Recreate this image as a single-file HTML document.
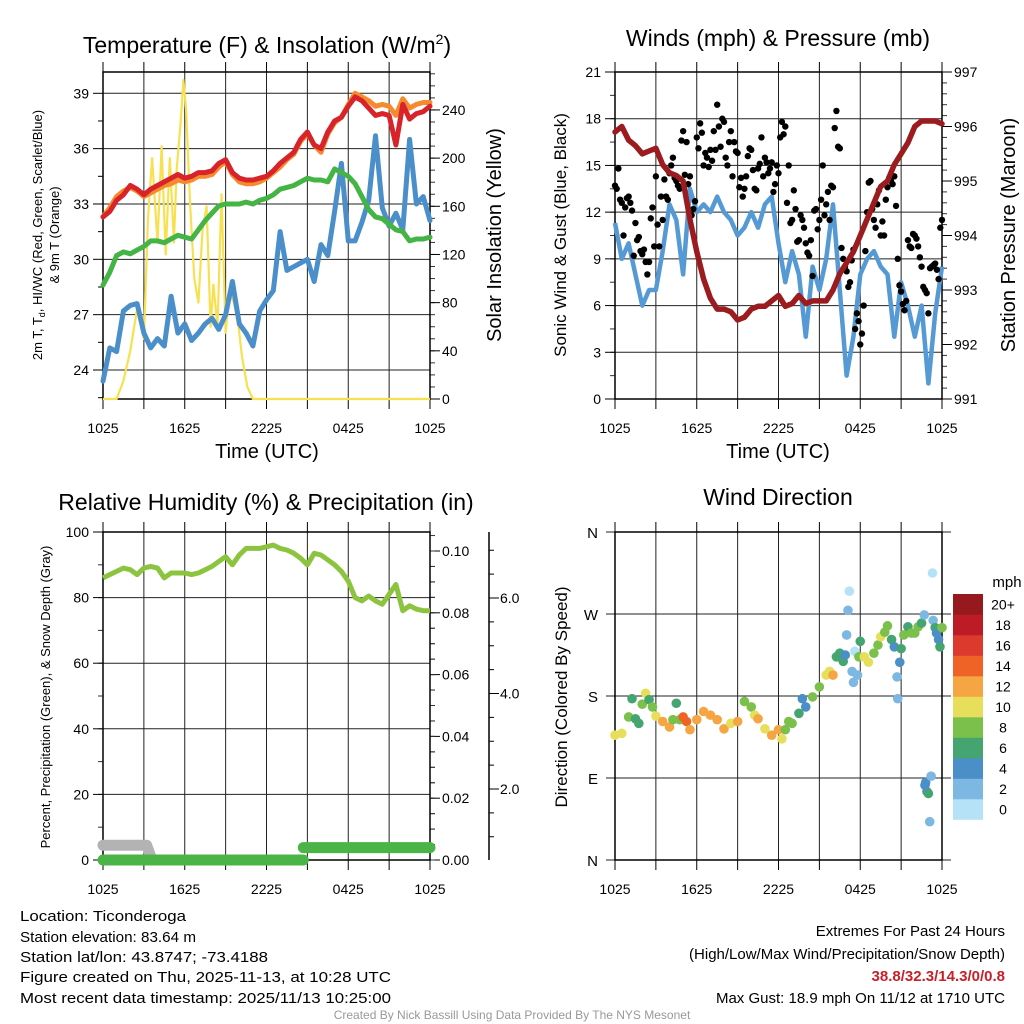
<!DOCTYPE html>
<html><head><meta charset="utf-8"><style>
html,body{margin:0;padding:0;background:#fff}
svg{display:block;font-family:"Liberation Sans",sans-serif}
</style></head><body>
<svg id="fig" width="1024" height="1024" viewBox="0 0 1024 1024" xmlns="http://www.w3.org/2000/svg">
<rect x="0" y="0" width="1024" height="1024" fill="#fff"/>
<g id="layer"></g>
<text x="267" y="53" font-size="23" text-anchor="middle">Temperature (F) &amp; Insolation (W/m<tspan font-size="14" dy="-9">2</tspan><tspan dy="9">)</tspan></text>
<text x="778" y="46" font-size="23" text-anchor="middle">Winds (mph) &amp; Pressure (mb)</text>
<text x="266" y="510" font-size="23" text-anchor="middle">Relative Humidity (%) &amp; Precipitation (in)</text>
<text x="778" y="505" font-size="23" text-anchor="middle">Wind Direction</text>
<text x="267" y="458" font-size="20" text-anchor="middle">Time (UTC)</text>
<text x="778" y="458" font-size="20" text-anchor="middle">Time (UTC)</text>
<text transform="translate(42,235) rotate(-90)" font-size="13" text-anchor="middle">2m T, T<tspan font-size="9" dy="3">d</tspan><tspan dy="-3">, HI/WC (Red, Green, Scarlet/Blue)</tspan></text>
<text transform="translate(59,235) rotate(-90)" font-size="13" text-anchor="middle">&amp; 9m T (Orange)</text>
<text transform="translate(501,235) rotate(-90)" font-size="20" text-anchor="middle">Solar Insolation (Yellow)</text>
<text transform="translate(566,235) rotate(-90)" font-size="17" text-anchor="middle">Sonic Wind &amp; Gust (Blue, Black)</text>
<text transform="translate(1015,235) rotate(-90)" font-size="20" text-anchor="middle">Station Pressure (Maroon)</text>
<text transform="translate(50,697) rotate(-90)" font-size="13" text-anchor="middle">Percent, Precipitation (Green), &amp; Snow Depth (Gray)</text>
<text transform="translate(567,697) rotate(-90)" font-size="17" text-anchor="middle">Direction (Colored By Speed)</text>
<text x="1007" y="587" font-size="15" text-anchor="middle">mph</text>
<g font-size="15">
<text x="20" y="921" textLength="166" lengthAdjust="spacingAndGlyphs">Location: Ticonderoga</text>
<text x="20" y="942" textLength="176" lengthAdjust="spacingAndGlyphs">Station elevation: 83.64 m</text>
<text x="20" y="962" textLength="248" lengthAdjust="spacingAndGlyphs">Station lat/lon: 43.8747; -73.4188</text>
<text x="20" y="982" textLength="371" lengthAdjust="spacingAndGlyphs">Figure created on Thu, 2025-11-13, at 10:28 UTC</text>
<text x="20" y="1003" textLength="371" lengthAdjust="spacingAndGlyphs">Most recent data timestamp: 2025/11/13 10:25:00</text>
</g>
<g font-size="15" text-anchor="end">
<text x="1005" y="936">Extremes For Past 24 Hours</text>
<text x="1005" y="959">(High/Low/Max Wind/Precipitation/Snow Depth)</text>
<text x="1005" y="981" fill="#c8202a" font-weight="bold">38.8/32.3/14.3/0/0.8</text>
<text x="1005" y="1003">Max Gust: 18.9 mph On 11/12 at 1710 UTC</text>
</g>
<text x="512" y="1019" font-size="12" fill="#999" text-anchor="middle">Created By Nick Bassill Using Data Provided By The NYS Mesonet</text>
</svg>
<script>
const hours = [0,0.5,1,1.5,2,2.5,3,3.5,4,4.5,5,5.5,6,6.5,7,7.5,8,8.5,9,9.5,10,10.5,11,11.5,12,12.5,13,13.5,14,14.5,15,15.5,16,16.5,17,17.5,18,18.5,19,19.5,20,20.5,21,21.5,22,22.5,23,23.5,24];
const timeTickLabels = ["1025","1625","2225","0425","1025"];
const tempRed = [32.3,32.6,33.2,33.5,34.0,33.8,33.5,33.8,34.0,34.2,34.4,34.6,34.4,34.5,34.7,34.7,34.8,35.2,35.4,34.7,34.4,34.3,34.3,34.4,34.5,34.8,35.2,35.5,35.8,36.5,36.9,36.2,36.0,36.9,37.5,37.7,38.3,38.8,38.6,38.2,37.8,37.9,37.8,36.2,38.4,37.6,37.9,38.0,38.3];
const temp9m = [32.3,32.8,33.4,33.7,33.9,33.7,33.4,33.6,33.8,34.0,34.1,34.3,34.2,34.3,34.5,34.5,34.6,35.0,35.3,34.6,34.2,34.1,34.1,34.2,34.4,34.7,35.0,35.4,35.7,36.4,36.8,36.2,35.8,36.8,37.4,37.7,38.4,39.0,38.8,38.6,38.3,38.4,38.3,37.8,38.7,38.2,38.4,38.5,38.5];
const dewpoint = [28.6,29.3,30.2,30.4,30.3,30.5,30.7,31.0,31.0,30.9,31.1,31.3,31.2,31.1,31.6,32.1,32.5,32.9,33.0,33.0,33.0,33.1,33.0,33.2,33.3,33.5,33.8,33.9,34.0,34.2,34.4,34.3,34.3,34.2,34.9,34.7,34.5,34.1,33.4,32.7,32.3,32.2,31.9,31.6,31.5,31.0,31.1,31.1,31.2];
const windChill = [23.4,25.2,25.0,27.2,27.5,27.6,26.0,25.2,25.7,25.3,28.0,26.0,26.5,25.6,26.0,26.5,26.8,26.2,27.0,28.8,26.5,26.0,25.3,27.2,27.8,28.3,31.5,29.4,29.6,29.8,30.0,28.8,30.8,30.2,32.6,35.2,31.0,31.0,32.0,33.2,36.7,32.8,31.8,32.5,31.6,36.5,33.0,33.4,32.1];
const solarHours = [0,1,1.5,2,2.5,3,3.3,3.6,4,4.3,4.6,4.9,5.2,5.4,5.7,5.9,6.1,6.4,6.7,7,7.3,7.6,7.9,8.1,8.4,8.7,9,9.3,9.6,9.9,10.2,10.6,11,24];
const solar = [0,0,15,40,75,50,150,200,130,210,120,200,130,190,230,265,240,160,100,80,140,160,60,95,60,170,55,90,80,65,35,10,0,0];
const windSpeed = [11.3,9,10,8,6,7,7,9.5,12.5,11.5,8,13.5,12,12.5,12,13,12,11.5,10.5,11,12,11,12.5,13,10,7.5,9.5,8,4,8.5,7,9,12.5,7,1.5,4,8,9,9.5,8.5,8,4,7.5,6,4,6,1,5.5,8.5];
const gustHours = [0,0.25,0.5,0.75,1,1.25,1.5,1.75,2,2.25,2.5,2.75,3,3.25,3.5,3.75,4,4.25,4.5,4.75,5,5.25,5.5,5.75,6,6.25,6.5,6.75,7,7.25,7.5,7.75,8,8.25,8.5,8.75,9,9.25,9.5,9.75,10,10.25,10.5,10.75,11,11.25,11.5,11.75,12,12.25,12.5,12.75,13,13.25,13.5,13.75,14,14.25,14.5,14.75,15,15.25,15.5,15.75,16,16.25,16.5,16.75,17,17.25,17.5,17.75,18,18.25,18.5,18.75,19,19.25,19.5,19.75,20,20.25,20.5,20.75,21,21.25,21.5,21.75,22,22.25,22.5,22.75,23,23.25,23.5,23.75,24];
const gusts = [13.7,14.8,12.6,12.3,13,12.1,11.3,10.4,9.3,8.8,8.8,12.3,14.3,9.8,11.5,13,14.5,15.5,14,13.5,17.2,16.5,14.3,12.2,16.8,17.7,15,15.5,16,17.2,18.9,16.2,17.8,15,17.2,16.5,15.8,14.2,13.5,15.6,16,13.5,14.8,16.8,15.5,14.5,15.2,13.8,14.5,17.8,17.5,15,11.5,12.2,10.2,11.5,10,9.2,7.9,12.2,11.5,15,12.5,11.5,13.6,18.5,16.1,9,8.2,7.5,9.6,5.5,3.5,6,12,14,11.5,12.5,10.5,10.5,13.6,14,14.3,9,6.9,5.7,10.2,9.7,10.5,9.8,8.5,7,5.5,8.5,8.7,7.7,11.5];
const gustHours2 = [0.125,0.375,0.625,0.875,1.125,1.375,1.625,1.875,2.125,2.375,2.625,2.875,3.125,3.375,3.625,3.875,4.125,4.375,4.625,4.875,5.125,5.375,5.625,5.875,6.125,6.375,6.625,6.875,7.125,7.375,7.625,7.875,8.125,8.375,8.625,8.875,9.125,9.375,9.625,9.875,10.125,10.375,10.625,10.875,11.125,11.375,11.625,11.875,12.125,12.375,12.625,12.875,13.125,13.375,13.625,13.875,14.125,14.375,14.625,14.875,15.125,15.375,15.625,15.875,16.125,16.375,16.625,16.875,17.125,17.375,17.625,17.875,18.125,18.375,18.625,18.875,19.125,19.375,19.625,19.875,20.125,20.375,20.625,20.875,21.125,21.375,21.625,21.875,22.125,22.375,22.625,22.875,23.125,23.375,23.625,23.875];
const gusts2 = [13.5,12.8,10.5,12.9,12.6,9.2,10.2,9.5,9.6,8.0,11.6,9.8,11.2,13.0,14.1,12.8,15.0,14.2,13.7,16.6,14.4,13.8,11.8,12.7,16.1,17.1,15.8,14.9,15.3,16.0,17.5,18.0,15.5,16.5,14.3,15.9,13.6,13.0,14.3,16.1,14.7,13.4,15.1,14.3,15.2,14.8,13.3,15.0,16.8,17.0,12.6,11.3,13.4,10.1,11.8,11.0,9.4,10.2,12.1,10.9,12.8,11.8,13.3,13.7,17.4,16.2,9.7,8.5,7.2,8.9,4.5,5.0,4.2,9.5,13.9,12.2,11.0,13.4,11.4,12.8,14.2,13.8,12.4,7.3,6.1,6.3,9.8,10.6,10.3,9.1,7.2,6.8,8.4,8.6,8.3,11.0];
const pressure = [995.9,996.0,995.75,995.65,995.5,995.55,995.6,995.3,995.15,995.1,995.0,994.3,993.7,993.2,992.85,992.65,992.65,992.6,992.45,992.5,992.65,992.7,992.7,992.8,992.9,992.7,992.75,992.9,992.75,992.8,992.8,992.8,993.0,993.3,993.5,993.7,994.0,994.3,994.6,994.9,995.0,995.3,995.5,995.7,996.0,996.1,996.1,996.1,996.05];
const humidity = [86,87,88,89,88.5,87,89,89.5,89,86,87.5,87.5,87.5,87,87.5,88.5,89.5,91,92.5,90,93,95,95,95,95.5,96,95,94.5,93.5,92,90,93.5,93,91.5,90,88,85,80,79,80.5,79,78,81,84,76,77.5,76.5,76,76];
const precipHours = [0,14.7,14.7,24];
const precip = [0,0,0.004,0.004];
const snowHours = [0,3.2,3.6];
const snowDepth = [4.5,4.5,0];
const dirHours = [0,0.5,1,1.25,1.5,1.75,2,2.25,2.5,2.75,3,3.5,4,4.25,4.5,4.75,5,5.25,5.5,6,6.5,7,7.5,8,8.5,9,9.5,10,10.25,10.5,11,11.5,12,12.25,12.5,12.75,13,13.5,13.75,14,14.5,15,15.5,15.75,16,16.25,16.5,16.75,16.9,17,17.1,17.2,17.4,17.5,17.6,17.8,17.9,18,18.3,18.6,19,19.3,19.5,19.8,20,20.3,20.5,20.7,20.75,20.9,21,21.2,21.5,21.75,22,22.25,22.5,22.7,22.75,22.8,22.9,23,23.1,23.2,23.3,23.35,23.5,23.6,23.75,23.85,24];
const dirDegrees = [137,139,157,177,155,150,171,183,176,168,158,152,146,154,172,154,157,152,143,154,163,159,154,144,150,152,174,168,159,155,144,137,143,133,143,152,150,161,177,168,179,190,203,207,203,223,227,218,225,247,274,295,207,195,229,203,223,240,223,217,227,236,245,250,257,242,234,201,177,217,232,247,256,249,249,256,260,269,82,85,75,73,42,92,315,263,255,249,242,234,255];
const dirSpeed = [10,10,8,6,6,6,8,10,6,8,10,12,12,8,6,8,14,14,12,12,12,12,12,12,10,12,8,8,10,12,10,12,12,10,8,8,8,6,4,4,8,8,10,10,12,6,6,6,4,2,2,0,2,2,0,2,8,6,10,10,8,8,10,8,8,6,4,2,2,4,6,8,6,8,8,8,6,2,4,4,4,6,2,2,0,2,6,4,4,6,8];
const speedColors = ["#b5e2f6","#7db8e3","#4a8fc7","#45a570","#7bc04b","#e7df5b","#f5a541","#ef6327","#dc3a2c","#bd1c27","#961a1d"];
const speedLabels = ["0","2","4","6","8","10","12","14","16","18","20+"];

const NS = "http://www.w3.org/2000/svg";
const layer = document.getElementById('layer');
function mk(tag, attrs, name, parent) {
  const el = document.createElementNS(NS, tag);
  for (const k in attrs) el.setAttribute(k, attrs[k]);
  
  
  (parent || layer).appendChild(el);
  return el;
}
function ln(x1,y1,x2,y2,name,st,w){ return mk('line',{x1,y1,x2,y2,stroke:st||'#000','stroke-width':w||1},name); }
function tx(x,y,s,name,anchor,size){ const t=mk('text',{x,y,'font-size':size||14,'text-anchor':anchor||'middle'},name); t.textContent=s; return t; }
function scale(d0,d1,r0,r1){ return v => r0 + (v-d0)/(d1-d0)*(r1-r0); }
function path(xs,ys,fx,fy){ return xs.map((t,i)=>(i?'L':'M')+fx(t).toFixed(1)+','+fy(ys[i]).toFixed(1)).join(''); }

function timeAxis(P, name){
  const xs = scale(0,24,P.x0,P.x1);
  for (let h=0; h<=24; h+=3){
    const x = xs(h);
    ln(x,P.y0,x,P.y1,name+'-vgrid','#222',1);
    ln(x,P.y0-10,x,P.y0,name+'-top-tick','#000',1);
    ln(x,P.y1,x,P.y1+10,name+'-bottom-tick','#000',1);
  }
  timeTickLabels.forEach((s,i)=>tx(xs(i*6),P.y1+34,s,name+'-x-tick-label'));
  return xs;
}
function yAxis(P, d0, d1, major, minor, side, fmt, name, grid, offset){
  const ys = scale(d0,d1,P.y1,P.y0);
  const ax = side==='left' ? P.x0 - (offset||0) : P.x1 + (offset||0);
  const dir = side==='left' ? -1 : 1;
  for (let v=d0; v<=d1+1e-9; v+=minor){
    const y=ys(v); if (y<P.y0-0.5||y>P.y1+0.5) continue;
    ln(ax,y,ax+dir*5,y,name+'-minor-tick','#333',1);
  }
  for (let v=Math.ceil(d0/major-1e-9)*major; v<=d1+1e-9; v+=major){
    const y=ys(v); if (y<P.y0-0.5||y>P.y1+0.5) continue;
    if (grid) ln(P.x0,y,P.x1,y,name+'-hgrid','#222',1);
    ln(ax,y,ax+dir*10,y,name+'-major-tick','#000',1);
    tx(ax+dir*(side==='left'?14:12), y+5, fmt(v), name+'-tick-label', side==='left'?'end':'start');
  }
  return ys;
}
function frame(P,name){
  mk('rect',{x:P.x0,y:P.y0,width:P.x1-P.x0,height:P.y1-P.y0,fill:'none',stroke:'#000','stroke-width':1.5},name);
}

// panel 1
const P1={x0:103,x1:430,y0:72,y1:399};
const x1s = timeAxis(P1,'temp');
const yT = scale(39,24,93.3,370);
for (let v=24; v<=39; v+=3){ ln(P1.x0,yT(v),P1.x1,yT(v),'temp-hgrid','#222',1); ln(P1.x0-10,yT(v),P1.x0,yT(v),'temp-major-tick'); tx(P1.x0-14,yT(v)+5,String(v),'temp-tick-label','end'); }
for (let v=22.5; v<=40; v+=1.5){ if (v%3) ln(P1.x0-5,yT(v),P1.x0,yT(v),'temp-minor-tick'); }
const yS = yAxis(P1,0,271.5,40,10,'right',v=>String(v),'solar',false);
frame(P1,'temp-plot-frame');
mk('path',{d:path(solarHours,solar,x1s,yS),fill:'none',stroke:'#f7e151','stroke-width':2.2,'stroke-linejoin':'round'},'solar-insolation-line');
mk('path',{d:path(hours,windChill,x1s,yT),fill:'none',stroke:'#4a8fc9','stroke-width':5,'stroke-linejoin':'round','stroke-linecap':'round'},'wind-chill-line');
mk('path',{d:path(hours,dewpoint,x1s,yT),fill:'none',stroke:'#44b444','stroke-width':5,'stroke-linejoin':'round','stroke-linecap':'round'},'dewpoint-line');
mk('path',{d:path(hours,temp9m,x1s,yT),fill:'none',stroke:'#f58a2e','stroke-width':5,'stroke-linejoin':'round','stroke-linecap':'round'},'temp-9m-line');
mk('path',{d:path(hours,tempRed,x1s,yT),fill:'none',stroke:'#d8232a','stroke-width':5,'stroke-linejoin':'round','stroke-linecap':'round'},'temp-2m-line');

// panel 2
const P2={x0:615,x1:942,y0:72,y1:399};
const x2s = timeAxis(P2,'wind');
const yW = yAxis(P2,0,21,3,1.5,'left',v=>String(v),'wind',true);
const yP = yAxis(P2,991,997,1,0.2,'right',v=>String(Math.round(v)),'pressure',false);
frame(P2,'wind-plot-frame');
mk('path',{d:path(hours,windSpeed,x2s,yW),fill:'none',stroke:'#559ad4','stroke-width':4.5,'stroke-linejoin':'round'},'sonic-wind-line');
gustHours.forEach((t,i)=>{ mk('circle',{cx:x2s(t),cy:yW(gusts[i]),r:3.2,fill:'#000'},'gust-point'); });
gustHours2.forEach((t,i)=>{ mk('circle',{cx:x2s(t),cy:yW(gusts2[i]),r:3.2,fill:'#000'},'gust-point'); });
mk('path',{d:path(hours,pressure,x2s,yP),fill:'none',stroke:'#9b1b1e','stroke-width':5.5,'stroke-linejoin':'round','stroke-linecap':'round'},'pressure-line');

// panel 3
const P3={x0:103,x1:430,y0:532,y1:860};
const x3s = timeAxis(P3,'rh');
const yR = yAxis(P3,0,100,20,10,'left',v=>String(v),'rh',true);
const yPr = yAxis({x0:103,x1:430,y0:551,y1:860},0,0.10,0.02,0.005,'right',v=>v.toFixed(2),'precip',false);
for (let v=0; v<=0.106; v+=0.005){ const y=yPr(v); if(y>=532) ln(430,y,435,y,'precip-minor-tick','#333',1); }
ln(489,532,489,860,'snow-axis-line','#000',1.5);
const ySn = scale(0,2,884.5,789);
for (let v=0; v<=7; v+=0.5){ const y=ySn(v); if (y<532||y>860) continue; const maj = (v%2===0); ln(489,y,489+(maj?10:5),y,'snow-axis-tick','#000',1); if (maj) tx(500,y+5,v.toFixed(1),'snow-tick-label','start'); }
frame(P3,'rh-plot-frame');
mk('path',{d:path(hours,humidity,x3s,yR),fill:'none',stroke:'#8cc43f','stroke-width':5,'stroke-linejoin':'round'},'humidity-line');
mk('path',{d:path(snowHours,snowDepth,x3s,yR),fill:'none',stroke:'#b3b3b3','stroke-width':11,'stroke-linejoin':'round','stroke-linecap':'round'},'snow-depth-line');
mk('path',{d:path(precipHours.slice(0,2),precip.slice(0,2),x3s,yPr),fill:'none',stroke:'#4ab447','stroke-width':11,'stroke-linecap':'round'},'precip-line-early');
mk('path',{d:path(precipHours.slice(2),precip.slice(2),x3s,yPr),fill:'none',stroke:'#4ab447','stroke-width':11,'stroke-linecap':'round'},'precip-line-late');

// panel 4
const P4={x0:615,x1:942,y0:532,y1:860};
const x4s = timeAxis(P4,'dir');
const yD = scale(0,360,P4.y1,P4.y0);
['N','E','S','W','N'].forEach((s,i)=>{ const y=yD(i*90); ln(P4.x0-9,y,P4.x1+9,y,'dir-hgrid','#222',1); tx(P4.x0-17,y+6,s,'dir-tick-label','end',15); });
frame(P4,'dir-plot-frame');
dirHours.forEach((t,i)=>{
  const c = speedColors[Math.min(10,Math.floor(dirSpeed[i]/2))];
  mk('circle',{cx:x4s(t),cy:yD(dirDegrees[i]),r:4.8,fill:c},'direction-point');
});
const cbTop=594, cbBin=20.5;
speedLabels.forEach((s,i)=>{
  const y = cbTop + (10-i)*cbBin;
  mk('rect',{x:953,y:y,width:30,height:cbBin+0.3,fill:speedColors[i]},'colorbar-bin');
  tx(1003,y+cbBin/2+5,s,'colorbar-label','middle',14);
});
</script>
</body></html>
